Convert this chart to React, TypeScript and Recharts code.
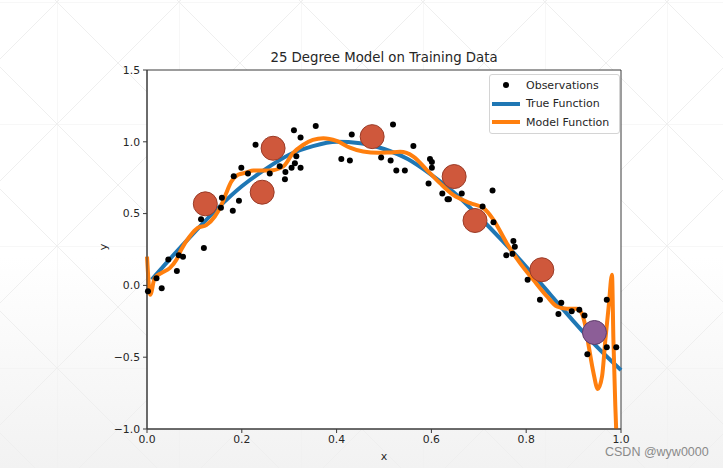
import { ComposedChart, Line, Scatter, XAxis, YAxis, CartesianGrid, ReferenceArea, Legend } from 'recharts';

// noisy observations
const obsX = [0.002, 0.02, 0.031, 0.045, 0.063, 0.067, 0.076, 0.114, 0.12, 0.156, 0.158, 0.181, 0.183, 0.194, 0.199,
  0.213, 0.229, 0.259, 0.28, 0.291, 0.292, 0.305, 0.31, 0.312, 0.315, 0.324, 0.324, 0.356, 0.41, 0.428,
  0.432, 0.494, 0.514, 0.519, 0.526, 0.544, 0.562, 0.594, 0.597, 0.601, 0.601, 0.623, 0.634, 0.637, 0.664,
  0.708, 0.729, 0.731, 0.758, 0.771, 0.773, 0.776, 0.803, 0.829, 0.868, 0.874, 0.896, 0.912, 0.923, 0.929,
  0.97, 0.97, 0.99];
const obsY = [-0.04, 0.05, -0.02, 0.18, 0.1, 0.21, 0.2, 0.46, 0.26, 0.54, 0.61, 0.52, 0.76, 0.59, 0.82,
  0.78, 0.98, 0.78, 0.83, 0.74, 0.79, 0.82, 1.08, 0.85, 0.9, 0.82, 1.03, 1.11, 0.88, 0.87,
  1.05, 0.89, 0.87, 1.12, 0.8, 0.8, 0.97, 0.71, 0.88, 0.86, 0.82, 0.64, 0.6, 0.6, 0.64,
  0.55, 0.66, 0.44, 0.21, 0.22, 0.31, 0.27, 0.04, -0.1, -0.2, -0.12, -0.18, -0.17, -0.21, -0.48,
  -0.1, -0.43, -0.43];

// true function
const trueX = [0.01, 0.05, 0.1, 0.15, 0.2, 0.25, 0.3, 0.35, 0.4, 0.45, 0.5, 0.55, 0.6, 0.65, 0.7, 0.75, 0.8, 0.85, 0.9, 0.95, 1.0];
const trueY = [0.04, 0.19, 0.37, 0.54, 0.69, 0.81, 0.91, 0.97, 1.0, 0.99, 0.95, 0.88, 0.77, 0.64, 0.48, 0.31, 0.13, -0.06, -0.25, -0.43, -0.59];

// fitted 25 degree model
const modelX = [0.0, 0.007, 0.016, 0.03, 0.048, 0.062, 0.072, 0.09, 0.107, 0.125, 0.143, 0.157, 0.167, 0.178, 0.192,
  0.21, 0.224, 0.259, 0.287, 0.308, 0.329, 0.35, 0.372, 0.4, 0.428, 0.456, 0.488, 0.512, 0.534, 0.562,
  0.59, 0.618, 0.646, 0.682, 0.71, 0.731, 0.759, 0.787, 0.815, 0.844, 0.865, 0.886, 0.907, 0.916, 0.925,
  0.932, 0.942, 0.951, 0.96, 0.967, 0.974, 0.981, 0.984, 0.988, 0.993];
const modelY = [0.2, -0.065, 0.05, 0.086, 0.12, 0.178, 0.248, 0.34, 0.4, 0.42, 0.48, 0.56, 0.642, 0.723, 0.77,
  0.786, 0.8, 0.8, 0.827, 0.921, 0.978, 1.013, 1.025, 1.006, 0.96, 0.932, 0.923, 0.926, 0.93, 0.897,
  0.805, 0.712, 0.63, 0.573, 0.538, 0.457, 0.294, 0.155, 0.039, -0.077, -0.147, -0.163, -0.163, -0.187, -0.286,
  -0.425, -0.61, -0.722, -0.634, -0.379, -0.147, 0.074, -0.38, -0.84, -1.28];

// training samples drawn large
const sampleX = [0.123, 0.243, 0.266, 0.475, 0.648, 0.692, 0.833];
const sampleY = [0.568, 0.649, 0.955, 1.036, 0.758, 0.452, 0.109];
const selectedX = [0.944];
const selectedY = [-0.328];

const xTicks = [0, 0.2, 0.4, 0.6, 0.8, 1.0];
const yTicks = [-1.0, -0.5, 0, 0.5, 1.0, 1.5];

const toPoints = (xs: number[], ys: number[]) => xs.map((x, i) => ({ x, y: ys[i] }));

const observations = toPoints(obsX, obsY);
const trueLine = toPoints(trueX, trueY);
const modelLine = toPoints(modelX, modelY);
const samples = toPoints(sampleX, sampleY);
const selected = toPoints(selectedX, selectedY);

const FONT = '"DejaVu Sans", sans-serif';
const fmt = (v: number) => v.toFixed(1).replace('-', '\u2212');

const renderLegend = () => {
  const row = { display: 'flex', alignItems: 'center', height: 18.5 };
  const key = { width: 28, marginLeft: 2, marginRight: 6, display: 'flex', justifyContent: 'center' };
  return (
    <div style={{ border: '1px solid #d4d4d4', borderRadius: 3, background: 'rgba(255,255,255,0.85)', padding: '1px 4px 1px 0', fontFamily: FONT, fontSize: 11, color: '#262626', width: 125 }}>
      <div style={row}>
        <div style={key}><div style={{ width: 6, height: 6, borderRadius: 3, background: '#000' }} /></div>
        <span>Observations</span>
      </div>
      <div style={row}>
        <div style={key}><div style={{ width: 28, height: 4, background: '#1f77b4' }} /></div>
        <span>True Function</span>
      </div>
      <div style={row}>
        <div style={key}><div style={{ width: 28, height: 4, background: '#ff7f0e' }} /></div>
        <span>Model Function</span>
      </div>
    </div>
  );
};

const dot = (p: any) => <circle cx={p.cx} cy={p.cy} r={3} fill="#000" />;
const bigRed = (p: any) => <circle cx={p.cx} cy={p.cy} r={12} fill="#cf583c" stroke="#9a3b27" strokeWidth={1} />;
const bigPurple = (p: any) => <circle cx={p.cx} cy={p.cy} r={12} fill="#8c5e97" stroke="#5e3b6a" strokeWidth={1} />;

const App = () => {
  return (
    <div style={{ position: 'relative', width: 723, height: 468, background: 'linear-gradient(#ffffff 55%, #f2f2f2)', overflow: 'hidden' }}>
      <style>{`body{margin:0}`}</style>
      <svg width={723} height={468} style={{ position: 'absolute', left: 0, top: 0 }}>
        <defs>
          <pattern id="bgGrid" x={57} y={2} width={122} height={122} patternUnits="userSpaceOnUse">
            <path d="M0 0H122M0 0V122M0 0L122 122M122 0L0 122" stroke="#efefef" strokeWidth={1} fill="none" />
          </pattern>
        </defs>
        <rect width={723} height={468} fill="url(#bgGrid)" />
      </svg>

      <div style={{ position: 'absolute', left: 0, top: 0 }}>
        <ComposedChart width={723} height={468} margin={{ top: 70, right: 102, left: 107, bottom: 6 }}>
          <CartesianGrid horizontal={false} vertical={false} fill="#ffffff" />
          <XAxis
            type="number"
            dataKey="x"
            domain={[0, 1]}
            ticks={xTicks}
            tickFormatter={fmt}
            height={33}
            tickSize={4}
            tickMargin={2}
            axisLine={{ stroke: '#3a3a3a' }}
            tickLine={{ stroke: '#3a3a3a' }}
            tick={{ fill: '#262626', fontSize: 10.8, fontFamily: FONT }}
          />
          <YAxis
            type="number"
            dataKey="y"
            domain={[-1, 1.5]}
            ticks={yTicks}
            tickFormatter={fmt}
            allowDataOverflow
            width={40}
            tickSize={4}
            tickMargin={3}
            axisLine={{ stroke: '#3a3a3a' }}
            tickLine={{ stroke: '#3a3a3a' }}
            tick={{ fill: '#262626', fontSize: 10.8, fontFamily: FONT }}
          />
          <Scatter name="Observations" data={observations} shape={dot} isAnimationActive={false} />
          <Line name="True Function" data={trueLine} dataKey="y" type="monotone" stroke="#1f77b4" strokeWidth={4} dot={false} activeDot={false} isAnimationActive={false} />
          <Line name="Model Function" data={modelLine} dataKey="y" type="monotone" stroke="#ff7f0e" strokeWidth={4} dot={false} activeDot={false} isAnimationActive={false} />
          <Scatter name="Samples" data={samples} shape={bigRed} isAnimationActive={false} legendType="none" />
          <Scatter name="Selected" data={selected} shape={bigPurple} isAnimationActive={false} legendType="none" />
          <ReferenceArea x1={0} x2={1} y1={-1} y2={1.5} fill="none" fillOpacity={0} stroke="#3a3a3a" strokeWidth={1} ifOverflow="visible" />
          <Legend
            layout="vertical"
            align="center"
            verticalAlign="middle"
            content={renderLegend}
            wrapperStyle={{ top: 74, left: 489, width: 'auto' }}
          />
        </ComposedChart>
      </div>

      <div style={{ position: 'absolute', left: 147, width: 474, top: 50, textAlign: 'center', fontFamily: FONT, fontSize: 13.3, color: '#262626' }}>
        25 Degree Model on Training Data
      </div>
      <div style={{ position: 'absolute', left: 147, width: 474, top: 450, textAlign: 'center', fontFamily: FONT, fontSize: 11, color: '#262626' }}>
        x
      </div>
      <div style={{ position: 'absolute', left: 97, top: 240, width: 14, height: 14, lineHeight: '14px', textAlign: 'center', transform: 'rotate(-90deg)', fontFamily: FONT, fontSize: 11, color: '#262626' }}>
        y
      </div>
      <div style={{ position: 'absolute', left: 605, top: 446, fontFamily: '"Liberation Sans", Arial, sans-serif', fontSize: 12.5, lineHeight: '13px', color: '#8a8a8a' }}>
        CSDN @wyw0000
      </div>
    </div>
  );
};

export default App;
